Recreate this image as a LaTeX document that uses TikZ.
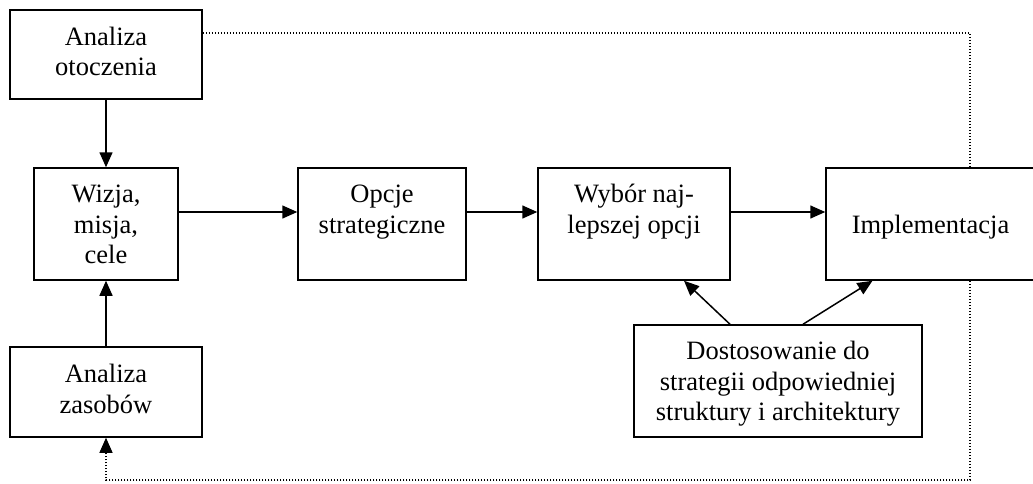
\documentclass[tikz,border=0pt]{standalone}
\usepackage{fontspec}
\setmainfont{Liberation Serif}
\usetikzlibrary{arrows.meta,calc}
\newcommand{\ls}{\rule[-6.25pt]{0pt}{30.5pt}}
\newcommand{\lsd}{\rule[-12pt]{0pt}{12pt}}
\begin{document}
\begin{tikzpicture}[x=1pt,y=-1pt,
  box/.style={draw,line width=1.5pt,inner sep=0pt,align=center,
    font=\fontsize{26.5}{30.5}\selectfont},
  arr/.style={line width=1.5pt,-{Triangle[length=15pt,width=13pt]}},
  dot/.style={line width=1.2pt,dash pattern=on 1.4pt off 1.6pt}]
\useasboundingbox (0,0) rectangle (1033,483);
\node[box,minimum width=192pt,minimum height=89pt] (otocz) at (106,54.5) {\ls Analiza\\\ls otoczenia\lsd};
\node[box,minimum width=192pt,minimum height=90pt] (zasob) at (106,392) {\ls Analiza\\\ls zasobów\lsd};
\node[box,minimum width=144pt,minimum height=112pt] (wizja) at (106,224) {\ls Wizja,\\\ls misja,\\\ls cele};
\node[box,minimum width=168pt,minimum height=112pt] (opcje) at (382,224) {\ls Opcje\\\ls strategiczne\\\ls};
\node[box,minimum width=192pt,minimum height=112pt] (wybor) at (634,224) {\ls Wybór naj-\\\ls lepszej opcji\\\ls};
\node[box,minimum width=209pt,minimum height=112pt] (impl) at (930.5,224) {\ls\\\ls Implementacja\\\ls};
\node[box,minimum width=288pt,minimum height=112pt] (dost) at (778,381) {\ls Dostosowanie do\\\ls strategii odpowiedniej\\\ls struktury i architektury};
\coordinate (tr) at (970,33);
\coordinate (br) at (970,480);
\coordinate (bl) at (106,480);
\draw[arr] (otocz.south) -- (wizja.north);
\draw[arr] (zasob.north) -- (wizja.south);
\draw[arr] ($(wizja.east)+(0,-12)$) -- ($(opcje.west)+(0,-12)$);
\draw[arr] ($(opcje.east)+(0,-12)$) -- ($(wybor.west)+(0,-12)$);
\draw[arr] ($(wybor.east)+(0,-12)$) -- ($(impl.west)+(0,-12)$);
\draw[arr] ($(dost.north)+(-48,0)$) -- ($(wybor.south)+(50,0)$);
\draw[arr] ($(dost.north)+(25,0)$) -- ($(impl.south)+(-58,0)$);
\draw[dot] ($(otocz.east)+(0,-21.5)$) -- (tr) -- (tr |- impl.north);
\draw[dot,-{Triangle[length=15pt,width=13pt]}] (tr |- impl.south) -- (br) -- (bl) -- (zasob.south);
\end{tikzpicture}
\end{document}
